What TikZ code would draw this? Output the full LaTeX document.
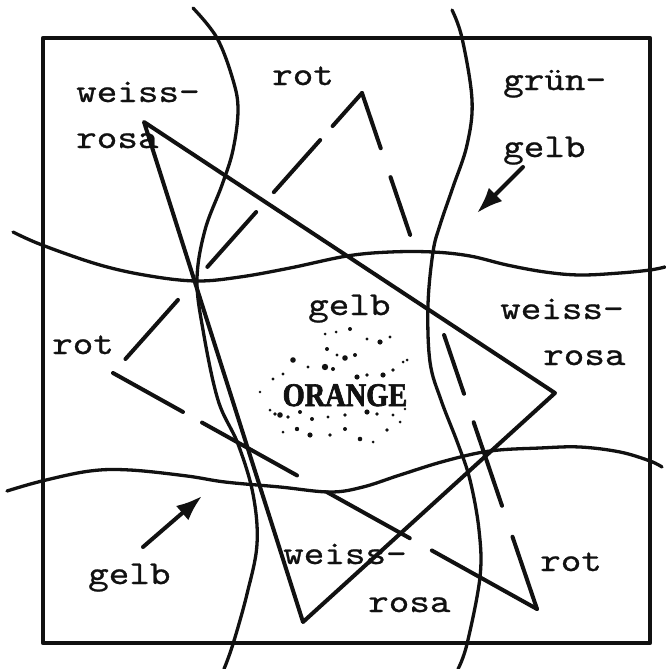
\documentclass[tikz,border=0pt]{standalone}
\usepackage{fontspec}
\usepackage{tikz}
\usetikzlibrary{arrows.meta,calc}
\newfontfamily\typefont{lmmono10-regular.otf}[FakeStretch=1.17,FakeBold=0.7]
\newfontfamily\heavyfont{Liberation Serif}[BoldFeatures={FakeBold=2,FakeStretch=0.86}]
\definecolor{ink}{HTML}{111111}

\begin{document}
\begin{tikzpicture}[x=1pt,y=-1pt,line cap=round,line join=round,
    every node/.style={inner sep=0pt,anchor=base west,text=ink,font=\typefont\fontsize{33.5}{40}\selectfont},
    border/.style={draw=ink,line width=4.2pt},
    wave/.style={draw=ink,line width=3.3pt},
    edge/.style={draw=ink,line width=4pt},
    pointer/.style={draw=ink,line width=4pt,-{Latex[length=26pt,width=19pt]}}]
  \useasboundingbox[fill=white] (0,0) rectangle (665,669);
  \draw[border] (43,38) rectangle (650,643);
  \draw[wave] plot[smooth,tension=.6] coordinates {(193,8) (217,38) (233,80) (238,110) (233,150) (222,185) (205,230) (197,279) (203,330) (218,400) (238,444) (253,494) (257,544) (247,594) (233,644) (224,669)};
  \draw[wave] plot[smooth,tension=.6] coordinates {(452,10) (462,38) (472,100) (467,145) (453,187) (440,225) (433,252) (428,305) (430,362) (441,400) (458,444) (470,480) (479,530) (480,577) (467,644) (458,669)};
  \draw[wave] plot[smooth,tension=.6] coordinates {(13,232) (42,245) (100,265) (150,276) (197,281) (240,277) (290,268) (347,256) (390,252) (433,252) (470,256) (507,265) (545,272) (580,275) (620,273) (650,270) (665,267)};
  \draw[wave] plot[smooth,tension=.6] coordinates {(7,491) (42,481) (90,471) (130,470) (187,476) (225,482) (280,487) (330,492) (363,487) (400,475) (445,461) (490,451) (540,448) (580,447) (620,452) (650,461) (662,467)};
  \coordinate (P) at (144,122);
  \coordinate (Q) at (555,393);
  \coordinate (R) at (303,622);
  \draw[edge] (P) -- (Q) -- (R) -- cycle;
  \coordinate (A) at (362,93);
  \coordinate (B) at (113,373);
  \coordinate (C) at (537,609);
  \foreach \s/\e in {0/.118,.168/.354,.425/.621,.739/.95}
    \draw[edge] ($(A)!\s!(B)$) -- ($(A)!\e!(B)$);
  \foreach \s/\e in {0/.165,.21/.434,.505/.70,.752/1}
    \draw[edge] ($(B)!\s!(C)$) -- ($(B)!\e!(C)$);
  \foreach \s/\e in {0/.14,.2/.362,.417/.531,.725/.837,.893/1}
    \draw[edge] ($(C)!\s!(A)$) -- ($(C)!\e!(A)$);
  \node (weissTL) at (76,102) {weiss-};
  \node (rosaTL) at (76,148) {rosa};
  \node (rotT) at (272,85) {rot};
  \node (gruen) at (503,90) {grün-};
  \node (gelbTR) at (503,157) {gelb};
  \node (rotL) at (52,354) {rot};
  \node (gelbM) at (308,315) {gelb};
  \node (weissR) at (500,319) {weiss-};
  \node (rosaR) at (543,365) {rosa};
  \node (gelbBL) at (88,584) {gelb};
  \node (weissB) at (283,564) {weiss-};
  \node (rosaB) at (368,612) {rosa};
  \node (rotBR) at (540,571) {rot};
  \node[anchor=base,font=\heavyfont\bfseries\fontsize{33}{34}\selectfont] (orange) at (345,406) {ORANGE};
  \foreach \x/\y/\r in {325/334/1.5,336/332/1.5,350/329/2,367/339/1.7,380/342/2.6,390/337/1.7,327/349/2,337/355/1.7,345/358/2.8,355/355/2,293/360/2.8,308/367/1.7,325/367/3.2,333/369/2,357/377/2.6,367/375/1.8,383/375/2.6,393/370/1.8,407/360/1.5,273/379/1.7,283/374/1.7,280/415/2.8,275/414/1.9,288/417/1.8,300/412/2,312/419/2,328/417/1.7,345/415/1.9,367/412/2.6,377/414/1.8,393/415/1.7,405/409/1.4,283/432/1.5,297/429/2.2,310/435/2.6,330/435/1.8,345/429/2,360/439/2.3,373/442/1.5,387/430/1.9,400/422/1.5,403/362/1.5,260/392/1.3,270/410/1.5}
    \fill[ink] (\x,\y) circle[radius=\r];
  \coordinate (trTail) at (523,167);
  \coordinate (trTip) at (477,213);
  \coordinate (blTail) at (143,547);
  \coordinate (blTip) at (202,496);
  \draw[pointer] (trTail) -- (trTip);
  \draw[pointer] (blTail) -- (blTip);
\end{tikzpicture}
\end{document}
